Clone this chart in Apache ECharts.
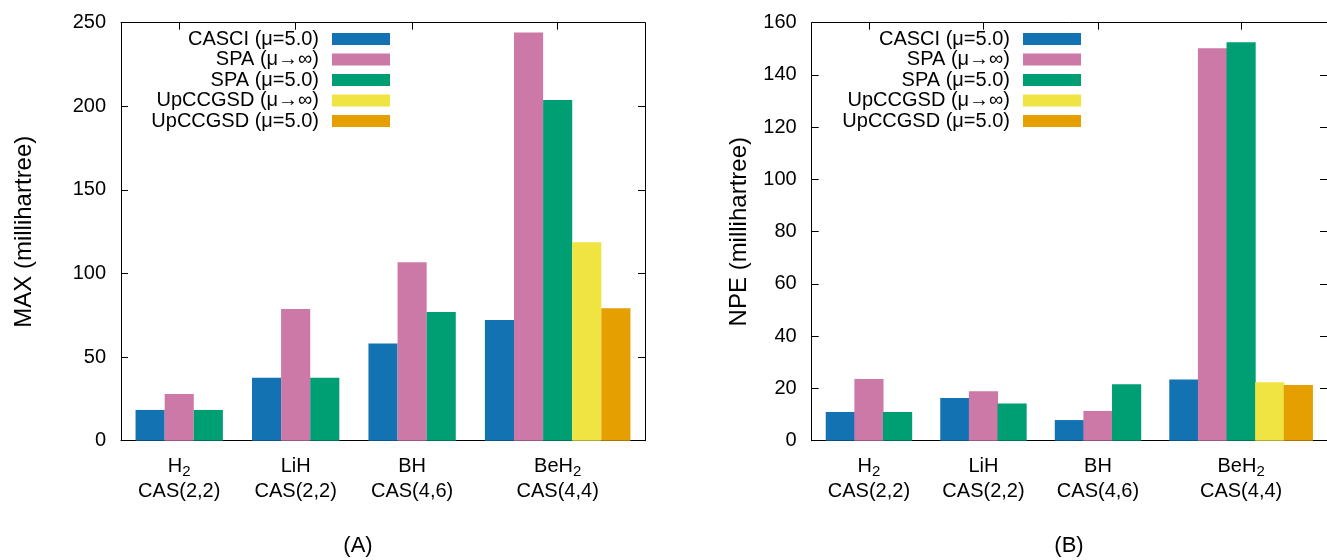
<!DOCTYPE html>
<html>
<head>
<meta charset="utf-8">
<script src="https://cdn.jsdelivr.net/npm/echarts@6/dist/echarts.min.js"></script>
<style>
  html, body { margin: 0; padding: 0; background: #fff; }
  #chart { width: 1327px; height: 560px; }
</style>
</head>
<body>
<div id="chart"></div>
<script>
// --- data ---
const molecules = ['H2', 'LiH', 'BH', 'BeH2']
const activeSpaces = ['CAS(2,2)', 'CAS(2,2)', 'CAS(4,6)', 'CAS(4,4)']
const methodNames = ['CASCI (μ=5.0)', 'SPA (μ→∞)', 'SPA (μ=5.0)', 'UpCCGSD (μ→∞)', 'UpCCGSD (μ=5.0)']
const methodColors = ['#1272b2', '#cc79a7', '#009e73', '#f0e442', '#e69f00']

// (A) MAX, millihartree
const casciMax = [18.4, 37.7, 58.2, 72.2]
const spaInfMax = [27.9, 78.8, 106.7, 244.2]
const spa5Max = [18.4, 37.7, 77.0, 203.8]
const upInfMax = [null, null, null, 118.7]
const up5Max = [null, null, null, 79.2]

// (B) NPE, millihartree
const casciNpe = [11.0, 16.3, 7.9, 23.4]
const spaInfNpe = [23.6, 18.9, 11.4, 150.2]
const spa5Npe = [11.0, 14.2, 21.6, 152.5]
const upInfNpe = [null, null, null, 22.4]
const up5Npe = [null, null, null, 21.3]

const maxTicks = [0, 50, 100, 150, 200, 250]
const npeTicks = [0, 20, 40, 60, 80, 100, 120, 140, 160]

// --- layout ---
const GROUP_STRIDE = 4 // slots per molecule group (gnuplot-like spacing)
const X_MIN = -1
const X_MAX = 17
const FONT = '"Liberation Sans", Arial, Helvetica, sans-serif'

const panels = [
  {tag: '(A)', name: 'MAX (millihartree)', nameGap: 85, ticks: maxTicks,
    values: [casciMax, spaInfMax, spa5Max, upInfMax, up5Max],
    grid: {left: 121, top: 22.7, width: 524, height: 418}, legendRight: 937, tagX: 358},
  {tag: '(B)', name: 'NPE (millihartree)', nameGap: 60, ticks: npeTicks,
    values: [casciNpe, spaInfNpe, spa5Npe, upInfNpe, up5Npe],
    grid: {left: 811.7, top: 22.7, width: 525, height: 418}, legendRight: 246, tagX: 1069},
]

// bar centres: each group starts at g*stride, bars follow one slot apart
const barCount = molecules.map((m, g) =>
  panels[0].values.filter(v => v[g] !== null).length)
const groupCenters = molecules.map((m, g) => g * GROUP_STRIDE + (barCount[g] - 1) / 2)

const labelFor = (value) => {
  const g = groupCenters.indexOf(value)
  if (g < 0) return ''
  const mol = molecules[g].replace(/(\d+)/g, '}{sub|$1}{mol|')
  return '{mol|' + mol + '}\n{cas|' + activeSpaces[g] + '}'
}

const axisLine = {show: true, onZero: false, lineStyle: {color: '#000', width: 1}}
const tick = {inside: true, length: 7, lineStyle: {color: '#000'}}

const grid = []
const xAxis = []
const yAxis = []
const series = []
const legend = []
const graphic = []

panels.forEach((p, pi) => {
  grid.push(p.grid)
  const step = p.ticks[1] - p.ticks[0]
  const yMax = p.ticks[p.ticks.length - 1]

  xAxis.push({
    type: 'value', gridIndex: pi, min: X_MIN, max: X_MAX, position: 'bottom',
    axisLine, splitLine: {show: false},
    axisTick: {...tick, customValues: groupCenters},
    axisLabel: {
      customValues: groupCenters, formatter: labelFor, margin: 13, color: '#000',
      rich: {
        mol: {fontSize: 20, lineHeight: 25, fontFamily: FONT, color: '#000'},
        sub: {fontSize: 15, lineHeight: 25, padding: [12, 0, 0, 0], fontFamily: FONT, color: '#000'},
        cas: {fontSize: 20, lineHeight: 25, fontFamily: FONT, color: '#000'},
      },
    },
  })
  xAxis.push({
    type: 'value', gridIndex: pi, min: X_MIN, max: X_MAX, position: 'top',
    axisLine, splitLine: {show: false}, axisLabel: {show: false},
    axisTick: {...tick, customValues: groupCenters},
  })
  yAxis.push({
    type: 'value', gridIndex: pi, min: 0, max: yMax, interval: step, position: 'left',
    name: p.name, nameLocation: 'middle', nameGap: p.nameGap,
    nameTextStyle: {fontSize: 24, color: '#000', fontFamily: FONT},
    axisLine, splitLine: {show: false}, axisTick: tick,
    axisLabel: {fontSize: 20, color: '#000', margin: 15, fontFamily: FONT},
  })
  yAxis.push({
    type: 'value', gridIndex: pi, min: 0, max: yMax, interval: step, position: 'right',
    axisLine, splitLine: {show: false}, axisLabel: {show: false}, axisTick: tick,
  })

  const barWidth = p.grid.width / (X_MAX - X_MIN)
  p.values.forEach((vals, si) => {
    const data = []
    vals.forEach((v, g) => {
      if (v !== null) data.push([g * GROUP_STRIDE + si, v])
    })
    series.push({
      name: methodNames[si], type: 'bar',
      xAxisIndex: pi * 2, yAxisIndex: pi * 2,
      barWidth, barGap: '-100%',
      itemStyle: {color: methodColors[si]},
      data,
    })
  })

  legend.push({
    data: methodNames, orient: 'vertical', align: 'right',
    right: p.legendRight, top: 29, padding: 0, itemGap: 0.5,
    itemWidth: 58, itemHeight: 12, icon: 'rect',
    textStyle: {fontSize: 20, lineHeight: 20, color: '#000', fontFamily: FONT, padding: [0, 8, 0, 0]},
  })

  graphic.push({
    type: 'text', x: p.tagX, y: 546,
    style: {text: p.tag, fill: '#000', font: '22px ' + FONT, align: 'center', verticalAlign: 'middle'},
  })
})

const chart = echarts.init(document.getElementById('chart'))
chart.setOption({
  animation: false,
  textStyle: {fontFamily: FONT},
  grid, xAxis, yAxis, series, legend, graphic,
})
</script>
</body>
</html>
